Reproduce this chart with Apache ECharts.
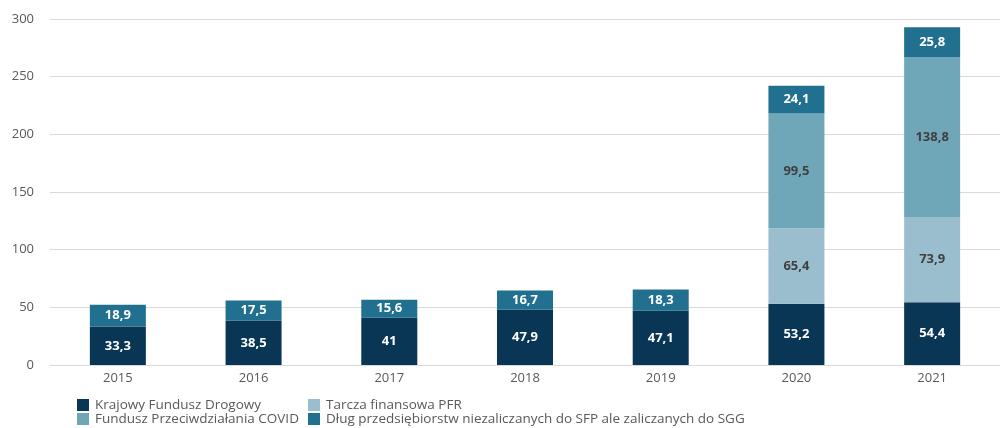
<!DOCTYPE html>
<html>
<head>
<meta charset="utf-8">
<script src="https://cdn.jsdelivr.net/npm/echarts@6/dist/echarts.min.js"></script>
<style>
  html, body { margin: 0; padding: 0; background: #fff; }
  #chart { width: 1000px; height: 428px; }
</style>
</head>
<body>
<div id="chart"></div>
<script>
const years = ['2015', '2016', '2017', '2018', '2019', '2020', '2021']
const kfd = [33.3, 38.5, 41, 47.9, 47.1, 53.2, 54.4]
const tarcza = [null, null, null, null, null, 65.4, 73.9]
const covid = [null, null, null, null, null, 99.5, 138.8]
const dlug = [18.9, 17.5, 15.6, 16.7, 18.3, 24.1, 25.8]
const yTicks = { min: 0, max: 300, interval: 50 }

const names = {
  kfd: 'Krajowy Fundusz Drogowy',
  tarcza: 'Tarcza finansowa PFR',
  covid: 'Fundusz Przeciwdziałania COVID',
  dlug: 'Dług przedsiębiorstw niezaliczanych do SFP ale zaliczanych do SGG',
}

const fontFamily = '"Open Sans", "Noto Sans", sans-serif'
const fmt = p => String(p.value).replace('.', ',')

const chart = echarts.init(document.getElementById('chart'))

const barSeries = (name, data, color, labelColor) => ({
  name,
  type: 'bar',
  stack: 'total',
  data,
  barWidth: 56,
  itemStyle: { color },
  label: {
    show: true,
    position: 'inside',
    formatter: fmt,
    color: labelColor,
    fontWeight: 'bold',
    fontSize: 13,
    fontFamily,
  },
})

// jedna pozycja legendy = jeden komponent, żeby ustawić ją 2x2 jak w oryginale
const legendItem = (name, left, top) => ({
  data: [name],
  left,
  top,
  padding: 0,
  itemWidth: 12,
  itemHeight: 12,
  itemGap: 0,
  icon: 'rect',
  textStyle: { color: '#595959', fontSize: 13.5, fontFamily, padding: [0, 0, 0, 1] },
})

chart.setOption({
  animation: false,
  textStyle: { fontFamily },
  grid: { left: 50, top: 19, width: 957, bottom: 63 },
  legend: [
    legendItem(names.kfd, 77, 398),
    legendItem(names.covid, 77, 412),
    legendItem(names.tarcza, 308, 398),
    legendItem(names.dlug, 308, 412),
  ],
  xAxis: {
    type: 'category',
    data: years,
    axisLine: { lineStyle: { color: '#d9d9d9' } },
    axisTick: { show: false },
    axisLabel: { color: '#595959', fontSize: 13, margin: 7 },
  },
  yAxis: {
    type: 'value',
    min: yTicks.min,
    max: yTicks.max,
    interval: yTicks.interval,
    axisLine: { show: false },
    axisTick: { show: false },
    axisLabel: { color: '#595959', fontSize: 13, margin: 16 },
    splitLine: { lineStyle: { color: '#d9d9d9' } },
  },
  series: [
    barSeries(names.kfd, kfd, '#0a3656', '#ffffff'),
    barSeries(names.tarcza, tarcza, '#9bbecf', '#404040'),
    barSeries(names.covid, covid, '#6fa6b8', '#404040'),
    barSeries(names.dlug, dlug, '#21708f', '#ffffff'),
  ],
})
</script>
</body>
</html>
